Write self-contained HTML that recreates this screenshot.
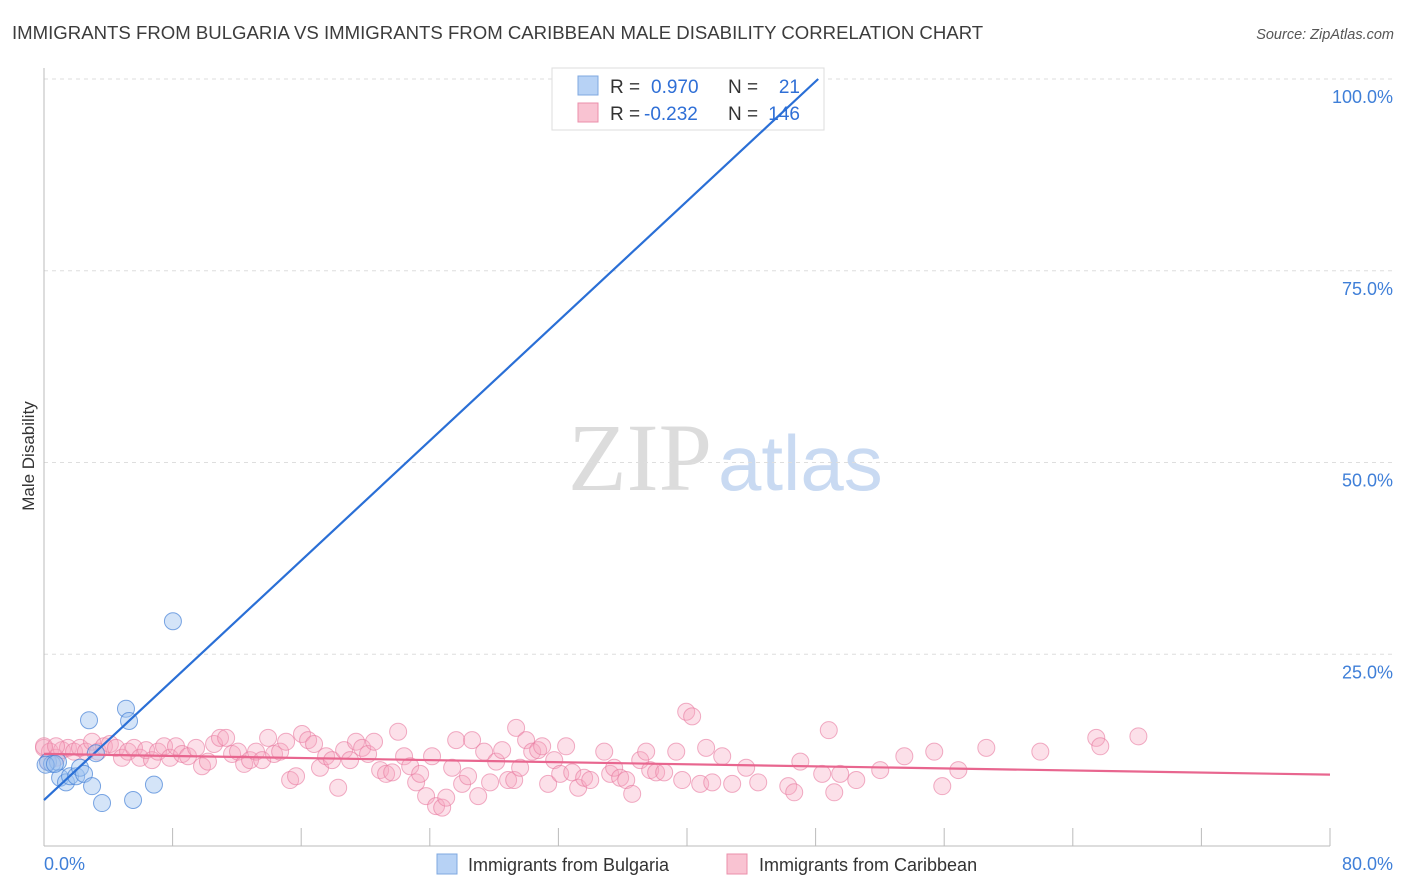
<!DOCTYPE html>
<html><head><meta charset="utf-8"><style>
body{margin:0;background:#fff;font-family:"Liberation Sans",sans-serif}
svg{display:block}
</style></head><body>
<svg id="chart" width="1406" height="892" xmlns="http://www.w3.org/2000/svg">
<text x="12" y="39" font-size="18.6" fill="#3c3c3c">IMMIGRANTS FROM BULGARIA VS IMMIGRANTS FROM CARIBBEAN MALE DISABILITY CORRELATION CHART</text>
<text x="1394" y="39" font-size="14.5" fill="#555" font-style="italic" text-anchor="end">Source: ZipAtlas.com</text>
<text transform="translate(34,456) rotate(-90)" font-size="17" fill="#333" text-anchor="middle">Male Disability</text>
<g>
<text x="712" y="490" font-size="96" font-family="Liberation Serif,serif" fill="#dcdcdc" text-anchor="end">ZIP</text>
<text x="718" y="490" font-size="78" fill="#c9daf2">atlas</text>
</g>
<g id="grid"></g><g id="axes"></g><g id="pts"></g>
<g>
<rect x="552" y="68" width="272" height="62" fill="#fff" stroke="#ddd"/>
<rect x="578" y="76" width="20" height="19" fill="#b7d2f5" stroke="#7fa8e0"/>
<rect x="578" y="103" width="20" height="19" fill="#f9c3d2" stroke="#eb8fab"/>
<text x="610" y="93" font-size="19" fill="#333">R = </text><text x="651" y="93" font-size="19" fill="#2f6fd6">0.970</text>
<text x="728" y="93" font-size="19" fill="#333">N = </text><text x="800" y="93" font-size="19" fill="#2f6fd6" text-anchor="end">21</text>
<text x="610" y="120" font-size="19" fill="#333">R = </text><text x="644" y="120" font-size="19" fill="#2f6fd6">-0.232</text>
<text x="728" y="120" font-size="19" fill="#333">N = </text><text x="800" y="120" font-size="19" fill="#2f6fd6" text-anchor="end">146</text>
</g>
<g id="lines"></g>
<g>
<rect x="437" y="854" width="20" height="20" fill="#b7d2f5" stroke="#7fa8e0"/>
<text x="468" y="871" font-size="18" fill="#333">Immigrants from Bulgaria</text>
<rect x="727" y="854" width="20" height="20" fill="#f9c3d2" stroke="#eb8fab"/>
<text x="759" y="871" font-size="18" fill="#333">Immigrants from Caribbean</text>
</g>
</svg>
<script>
const yTicks=[25,50,75,100];
const yTickLabels=["25.0%","50.0%","75.0%","100.0%"];
const xTickVals=[0,8,16,24,32,40,48,56,64,72,80];
const xEndLabels=["0.0%","80.0%"];
const blueX=[0.25,0.5,0.87,1.0,1.37,1.62,2.0,2.24,2.49,2.8,2.99,3.23,3.61,5.1,5.29,5.54,6.84,8.02,47.2,0.1,0.68];
const blueY=[10.95,10.7,10.95,8.9,8.3,9.1,9.1,10.2,9.4,16.4,7.8,12.1,5.6,17.9,16.3,6.0,8.0,29.3,100,10.6,10.7];
const pinkX=[0,0.37,0.75,1.12,1.49,1.87,2.24,2.61,2.99,3.36,3.73,4.1,4.48,4.85,5.23,5.6,5.97,6.35,6.72,7.09,7.47,7.84,8.21,8.59,8.96,9.46,9.83,10.2,10.58,10.95,11.33,11.7,12.07,12.45,12.82,13.19,13.57,13.94,14.31,14.69,15.06,15.31,15.68,16.05,16.43,16.8,17.17,17.55,17.92,18.3,18.67,19.04,19.41,19.79,20.16,20.53,20.91,21.28,21.66,22.03,22.4,22.78,23.15,23.4,23.77,24.14,24.39,24.77,25.02,25.39,25.64,26.01,26.38,26.63,27.01,27.38,27.75,28.13,28.5,28.87,29.25,29.37,29.62,29.99,30.37,30.74,30.99,31.36,31.74,32.11,32.48,32.86,33.23,33.6,33.98,34.85,35.22,35.47,35.84,36.22,36.59,37.09,37.46,37.71,38.08,38.58,39.33,39.7,39.95,40.32,40.82,41.19,41.57,42.19,42.81,43.68,44.43,46.3,46.67,47.05,48.41,48.82,49.16,49.53,50.53,52.02,53.52,55.38,55.88,56.88,58.62,61.98,65.46,65.71,68.08,0.25,0,0.75];
const pinkY=[12.8,12.3,11.5,12.5,12.8,12.3,12.8,12.3,13.6,12.3,13.0,13.3,12.8,11.5,12.3,12.8,11.5,12.5,11.2,12.3,13.0,11.5,13.0,12.0,11.7,12.8,10.4,11.0,13.3,14.1,14.1,12.0,12.3,10.7,11.2,12.3,11.2,14.1,12.0,12.3,13.6,8.6,9.1,14.6,13.8,13.3,10.2,11.7,11.2,7.6,12.5,11.2,13.6,12.8,12.0,13.6,9.9,9.4,9.6,14.9,11.7,10.4,8.3,9.4,6.5,11.7,5.2,5.0,6.3,10.2,13.8,8.1,9.1,13.8,6.5,12.3,8.3,11.0,12.5,8.6,8.6,15.4,10.2,13.8,12.3,12.5,13.0,8.1,11.2,9.4,13.0,9.6,7.6,8.9,8.6,12.3,9.4,10.2,8.9,8.6,6.8,11.2,12.3,9.9,9.6,9.6,12.3,8.6,17.5,16.9,8.1,12.8,8.3,11.7,8.1,10.2,8.3,7.8,7.0,11.0,9.4,15.1,7.0,9.4,8.6,9.9,11.7,12.3,7.8,9.9,12.8,12.3,14.1,13.0,14.3,11.0,13.0,13.0];
const X0=44,X1=1330,Y0=846,Y100=79;
const sx=v=>X0+(v/80)*(X1-X0);
const sy=v=>Y0-(v/100)*(Y0-Y100);
const NS="http://www.w3.org/2000/svg";
function mk(tag,attrs,parent){const e=document.createElementNS(NS,tag);for(const k in attrs)e.setAttribute(k,attrs[k]);document.getElementById(parent).appendChild(e);return e;}
yTicks.forEach((t,i)=>{
 const l=mk('line',{x1:X0,x2:1395,y1:sy(t),y2:sy(t),stroke:'#dedede','stroke-dasharray':'4,4'},'grid');
 
 
 const tx=mk('text',{x:1393,y:sy(t)+24,'font-size':18,fill:'#3f7fd8','text-anchor':'end'},'grid');
 tx.textContent=yTickLabels[i];
 
 
});
const ya=mk('line',{x1:X0,x2:X0,y1:68,y2:Y0,stroke:'#bbb'},'axes');


const xa=mk('line',{x1:X0,x2:X1,y1:Y0,y2:Y0,stroke:'#bbb'},'axes');


xTickVals.forEach(t=>{
 const l=mk('line',{x1:sx(t),x2:sx(t),y1:828,y2:Y0,stroke:'#bbb'},'axes');
 
 
});
const xl0=mk('text',{x:X0,y:870,'font-size':18,fill:'#3f7fd8'},'axes');xl0.textContent=xEndLabels[0];


const xl1=mk('text',{x:1393,y:870,'font-size':18,fill:'#3f7fd8','text-anchor':'end'},'axes');xl1.textContent=xEndLabels[1];


pinkX.forEach((x,i)=>{
 const c=mk('circle',{cx:sx(x),cy:sy(pinkY[i]),r:8.5,fill:'rgba(246,167,192,0.35)',stroke:'rgba(232,120,158,0.6)','stroke-width':1},'pts');
 
 
});
blueX.forEach((x,i)=>{
 const c=mk('circle',{cx:sx(x),cy:sy(blueY[i]),r:8.5,fill:'rgba(160,196,240,0.45)',stroke:'rgba(70,130,215,0.7)','stroke-width':1},'pts');
 
 
});
function reg(xs,ys){const n=xs.length;let mx=0,my=0;xs.forEach((x,i)=>{mx+=x;my+=ys[i];});mx/=n;my/=n;let a=0,b=0;xs.forEach((x,i)=>{a+=(x-mx)*(ys[i]-my);b+=(x-mx)*(x-mx);});const s=a/b;return [my-s*mx,s];}
const [bi,bs]=reg(blueX,blueY);
const bxe=Math.min(80,(100-bi)/bs);
const bl=mk('line',{x1:sx(0),y1:sy(bi),x2:sx(bxe),y2:sy(bi+bs*bxe),stroke:'#2a6fd6','stroke-width':2.2},'lines');


const [pi,ps]=reg(pinkX,pinkY);
const pl=mk('line',{x1:sx(0),y1:sy(pi),x2:sx(80),y2:sy(pi+ps*80),stroke:'#e8668f','stroke-width':2.2},'lines');


</script>
</body></html>
